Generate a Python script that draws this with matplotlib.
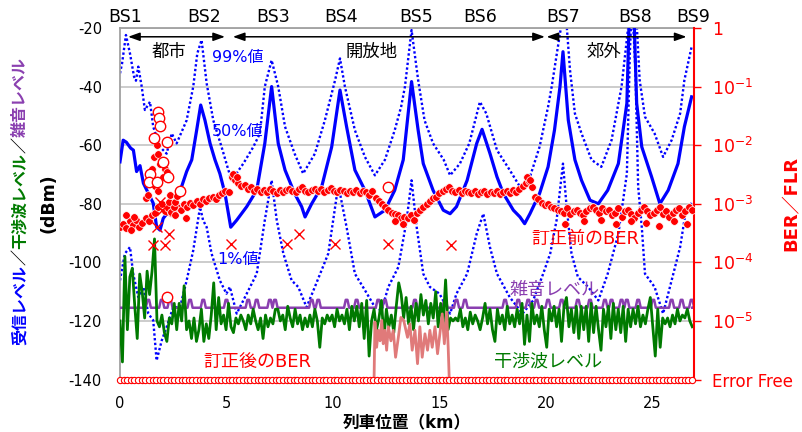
import numpy as np
import matplotlib
matplotlib.use('Agg')
import matplotlib.pyplot as plt
from matplotlib.ticker import NullLocator

plt.rcParams['font.family'] = ['DejaVu Sans', 'Noto Sans CJK JP']
plt.rcParams['axes.unicode_minus'] = False

BLUE = '#0000ff'
GREEN = '#007a00'
PURPLE = '#8a3fb0'
RED = '#ff0000'
SALMON = '#e07a7a'

# received level, 50% value (km, dBm)
rx50_km = [0.0, 0.15, 0.3, 0.5, 0.63, 0.78, 0.94, 1.1, 1.33, 1.56, 1.72, 1.88, 2.03, 2.35, 2.66,
           2.9, 3.13, 3.37, 3.6, 3.79, 3.99, 4.23, 4.46, 4.69, 4.93, 5.2, 5.48, 5.95, 6.42, 6.8,
           7.12, 7.43, 7.75, 8.2, 8.53, 8.69, 9.0, 9.47, 9.94, 10.33, 10.64, 11.03, 11.5, 11.97,
           12.44, 12.9, 13.3, 13.69, 14.0, 14.24, 14.7, 15.18, 15.5, 15.8, 16.3, 16.75, 17.0,
           17.37, 17.7, 18.0, 18.47, 18.78, 19.0, 19.25, 19.7, 20.1, 20.4, 20.66, 20.8, 21.05,
           21.36, 21.67, 22.07, 22.46, 22.9, 23.4, 23.8, 23.94, 24.1, 24.26, 24.5, 24.96, 25.35,
           25.74, 26.2, 26.5, 26.84]
rx50_dbm = [-65.7, -58.3, -59, -61, -61.7, -69, -67, -73, -76.4, -79.8, -87.9, -89, -85, -82, -77.7,
            -74, -69, -65, -54.9, -46.3, -51.5, -59.4, -65, -69.7, -76.5, -88, -85.6, -81, -75.4, -59.4,
            -40, -59.4, -68.5, -76.5, -81, -84.5, -80, -74.2, -60.6, -41.2, -53.7, -68.5, -75.4, -84.5,
            -82.2, -75.4, -65, -38.3, -54.9, -66.3, -75.4, -82.2, -83.4, -81, -72, -59.4, -54.6,
            -62.8, -70.8, -76.5, -82.2, -84.5, -86.8, -83.4, -76.5, -67.4, -54.9, -40, -28.1, -51.5,
            -65, -72, -78.8, -80, -75.4, -66.3, -45.7, -8, -8, -45.7, -60.6, -70.8, -80,
            -75.4, -66.3, -53.7, -43.5]

# received level, 99% value
rx99_km = [0.0, 0.1, 0.28, 0.47, 0.66, 0.75, 0.86, 1.02, 1.17, 1.41, 1.56, 1.88, 2.19, 2.43, 2.66,
           3.13, 3.44, 3.63, 3.83, 4.07, 4.38, 4.77, 5.09, 5.24, 5.79, 6.26, 6.57, 6.8, 7.12, 7.43,
           7.75, 8.2, 8.6, 9.15, 9.62, 10.1, 10.33, 10.56, 11.03, 11.5, 11.97, 12.44, 12.9, 13.2,
           13.38, 13.69, 14.0, 14.3, 14.7, 15.2, 15.5, 15.96, 16.4, 16.9, 17.2, 17.7, 18.3, 18.78,
           19.25, 19.7, 20.1, 20.27, 20.66, 20.9, 21.13, 21.36, 21.67, 22.14, 22.6, 23.08, 23.55,
           23.83, 24.0, 24.2, 24.4, 24.65, 25.1, 25.5, 25.9, 26.3, 26.5, 26.84]
rx99_dbm = [-35.5, -32, -22.4, -28.7, -36.6, -38, -33.2, -40, -48, -45.2, -53.7, -60.6, -62.9, -56, -59.4,
            -51.5, -40, -28.7, -24.1, -38.9, -51.5, -60.6, -68.5, -72, -66.3, -60.6, -56, -40, -31, -40,
            -53.7, -62.9, -69.7, -62.9, -51.5, -37.8, -30.4, -40, -54.9, -64, -70.3, -65, -54.9, -46.9,
            -40, -20.7, -37.8, -51.5, -59.4, -65, -70.3, -66.3, -59.4, -45.2, -49.2, -61.7, -68.5, -74.2,
            -70.8, -60.6, -46.9, -40, -21.8, -12, -34.4, -49.2, -56, -65, -67.4, -58.3, -40,
            -21.8, -5, -10, -37.8, -50.3, -56, -64, -58.3, -49.2, -37.8, -26.4]

# received level, 1% value
rx01_km = [0.0, 0.23, 0.47, 0.62, 0.86, 1.1, 1.33, 1.56, 1.72, 1.96, 2.19, 2.5, 2.82, 3.13, 3.44,
           3.76, 3.9, 4.07, 4.3, 4.69, 5.0, 5.16, 5.48, 5.95, 6.42, 6.8, 7.12, 7.36, 7.67, 8.06,
           8.37, 8.76, 9.15, 9.78, 10.17, 10.33, 10.64, 11.03, 11.5, 11.97, 12.28, 12.6, 13.07,
           13.46, 13.69, 13.93, 14.24, 14.55, 15.0, 15.5, 15.8, 16.3, 16.75, 17.06, 17.37, 17.7,
           18.3, 18.9, 19.4, 19.87, 20.2, 20.5, 20.8, 20.97, 21.2, 21.5, 21.98, 22.46, 22.9, 23.4,
           23.8, 23.94, 24.04, 24.2, 24.33, 24.5, 24.65, 25.1, 25.5, 25.9, 26.3, 26.6, 26.84]
rx01_dbm = [-106.2, -97, -94.8, -103.9, -111.9, -108.4, -117.5, -119.8, -133.5, -126.7, -122.1, -115.3,
            -115.3, -106.2, -95.9, -81.1, -85.6, -88, -97, -106.2, -110.7, -108.4, -117.5, -110.7,
            -103.9, -85.6, -72, -85.6, -97, -106.2, -108.4, -115.3, -108.4, -97, -77.7, -76.5, -88,
            -103.9, -109.5, -115.3, -116.4, -108.4, -101.6, -85.6, -72, -88, -103.9, -108.4, -110.7,
            -117.5, -110.7, -103.9, -90.2, -83.4, -94.8, -103.9, -111.9, -117.5, -113, -103.9, -97,
            -85.6, -66.3, -81, -97, -105, -108.4, -113, -103.9, -90.2, -69.7, -28.6, -10, -34.4,
            -74.2, -88, -103.9, -108.4, -117.5, -106.2, -94.8, -81, -79.8]

# interference level (dBm), sampled evenly from 0 to 26.87 km
interf_dbm = [
    -120, -134, -98, -123, -105, -102, -115, -126, -104, -110,
    -119, -103, -111, -103, -92, -120, -122, -118, -124, -127,
    -119, -121, -114, -123, -114, -120, -108, -123, -120, -126,
    -119, -127, -123, -116, -127, -121, -126, -118, -107, -123,
    -112, -121, -118, -123, -114, -122, -124, -119, -121, -118,
    -120, -123, -118, -121, -116, -120, -123, -119, -126, -118,
    -122, -119, -121, -116, -116, -120, -118, -123, -115, -119,
    -122, -116, -121, -118, -123, -119, -122, -118, -122, -116,
    -120, -129, -119, -121, -118, -120, -118, -122, -116, -120,
    -118, -121, -116, -123, -115, -120, -115, -122, -114, -126,
    -113, -132, -120, -116, -123, -119, -113, -126, -116, -122,
    -118, -124, -115, -107, -111, -119,
    -112, -121, -115, -123, -114, -120, -111, -118, -113, -121,
    -114, -119, -110, -122, -114, -121, -106, -123, -119, -120,
    -119, -120, -116, -122, -119, -123, -117, -121, -118, -120,
    -123, -119, -114, -121, -116, -123, -127, -116, -121, -118,
    -123, -115, -121, -118, -122, -116, -121, -114, -128, -118,
    -127, -114, -121, -118, -122, -115, -123, -129, -116, -120,
    -115, -122, -116, -127, -115, -112, -122, -116, -124, -115,
    -126, -115, -123, -115, -127, -114, -124, -115, -123, -130,
    -116, -122, -115, -126, -114, -123, -116, -124, -115, -127,
    -116, -122, -116, -121, -115, -122, -118, -121, -116, -112,
    -122, -132, -116, -129, -119, -121, -119, -122, -118, -121,
    -116, -120, -118, -119, -116, -120, -122]
interf_end_km = 26.87

# noise level: base and small bumps
noise_base = -115.5
noise_top = -112.8
noise_bump_km = [1.33, 1.96, 2.35, 3.29, 3.91, 5.0, 6.02, 6.42, 7.04, 7.28, 9.0, 9.31, 10.64, 11.11,
                 12.13, 12.44, 13.85, 15.26, 15.8, 16.2, 18.08, 18.7, 19.17, 19.56, 20.1, 20.74,
                 21.5, 22.07, 22.77, 23.08, 23.55, 23.8, 24.33, 25.04, 25.9, 26.37, 26.84]

# BER before FEC, log10 values every 0.15 km
ber_pre_log = [
    -3.40, -3.35, -3.42, -3.30, -3.36, -3.28, -3.40, -3.32, -3.25,
    -3.30, -3.20, -3.15, -3.05, -3.00, -3.12, -3.08, -3.15, -3.10,
    -3.05, -3.10, -3.00, -3.05, -2.98, -3.02, -2.95, -3.00, -2.92,
    -2.95, -2.90, -2.88, -2.92, -2.85, -2.82, -2.78, -2.80, -2.55,
    -2.60, -2.65, -2.70, -2.68, -2.75, -2.72, -2.78, -2.74, -2.80,
    -2.76, -2.80, -2.74, -2.78, -2.82, -2.76, -2.80, -2.77, -2.74,
    -2.78, -2.80, -2.75, -2.72, -2.78, -2.80, -2.76, -2.74, -2.78,
    -2.75, -2.80, -2.77, -2.73, -2.78, -2.80, -2.76, -2.79, -2.82,
    -2.78, -2.80, -2.76, -2.82, -2.78, -2.80, -2.85, -2.78, -2.90,
    -2.95, -3.00, -3.05, -3.10, -3.15, -3.18, -3.20, -3.25, -3.22,
    -3.25, -3.20, -3.28, -3.15, -3.10, -3.05, -3.00, -2.95, -2.90,
    -2.88, -2.82, -2.78, -2.75, -2.72, -2.78, -2.80, -2.76, -2.82,
    -2.78, -2.80, -2.82, -2.78, -2.84, -2.80, -2.78, -2.83, -2.80,
    -2.82, -2.78, -2.84, -2.80, -2.78, -2.82, -2.76, -2.80, -2.74,
    -2.70, -2.65, -2.62, -2.72, -2.88, -2.92, -2.98, -3.02, -3.00,
    -3.05, -3.08, -3.10, -3.12, -3.15, -3.08, -3.18, -3.12, -3.10,
    -3.15, -3.20, -3.12, -3.08, -3.05, -3.10, -3.15, -3.08, -3.12,
    -3.10, -3.20, -3.15, -3.08, -3.22, -3.12, -3.10, -3.18, -3.25,
    -3.15, -3.10, -3.05, -3.12, -3.20, -3.15, -3.10, -3.05, -3.18,
    -3.12, -3.22, -3.15, -3.10, -3.08, -3.20, -3.12, -3.05, -3.10]
ber_pre_step_km = 0.15

# scattered BER-before points
ber_pre_extra_km = [0.3, 0.5, 0.65, 1.2, 1.3, 1.5, 1.6, 1.65, 1.72, 1.8, 1.8, 1.9, 2.0, 2.1, 2.2,
                    2.3, 2.35, 2.4, 2.55, 2.6, 2.6, 2.7, 3.1, 5.3, 5.5, 12.9, 13.3, 19.1, 19.25,
                    20.9, 21.8, 22.6, 23.3, 24.0, 24.7, 25.3, 26.0, 26.6]
ber_pre_extra_log = [-3.2, -3.45, -3.22, -2.9, -2.85, -2.4, -2.2, -2.7, -2.0, -2.15, -2.78, -2.32,
                     -2.55, -2.4, -2.45, -2.97, -2.85, -3.14, -3.05, -2.97, -3.2, -2.87, -3.25,
                     -2.5, -2.55, -3.3, -3.35, -2.55, -2.6, -3.35, -3.3, -3.28, -3.35, -3.3,
                     -3.32, -3.38, -3.3, -3.35]

# open circles (FLR)
flr_km = [1.8, 1.85, 1.9, 1.6, 2.2, 2.0, 1.4, 1.35, 1.75, 2.25, 2.8, 2.19, 12.6]
flr_log = [-1.43, -1.54, -1.68, -1.88, -1.95, -2.29, -2.5, -2.63, -2.63, -2.54, -2.78, -4.59, -2.71]

# cross markers
cross_km = [1.88, 1.95, 1.72, 2.3, 1.56, 2.11, 5.23, 7.84, 8.42, 10.1, 12.6, 15.52]
cross_log = [-2.97, -3.11, -3.4, -3.51, -3.71, -3.71, -3.69, -3.69, -3.52, -3.69, -3.69, -3.7]

# BER after FEC (where not error free)
ber_post_km = [11.93, 11.97, 12.05, 12.13, 12.21, 12.29, 12.36, 12.44, 12.52, 12.6, 12.72, 12.83,
               12.94, 13.07, 13.19, 13.32, 13.5, 13.61, 13.72, 13.85, 13.97, 14.08, 14.19, 14.32,
               14.44, 14.55, 14.66, 14.79, 14.91, 15.02, 15.13, 15.23, 15.34, 15.41, 15.46]
ber_post_log = [-6.0, -5.02, -5.45, -5.16, -5.34, -4.99, -5.39, -5.16, -5.5, -5.1, -5.34, -5.16,
                -5.62, -5.28, -4.94, -4.99, -5.28, -5.05, -5.5, -5.16, -5.73, -5.1, -5.62, -5.22,
                -5.5, -5.16, -5.45, -5.1, -5.56, -5.22, -4.88, -5.39, -4.85, -5.45, -6.0]

error_free_ber = 1e-6
error_free_step_km = 0.17

bs_names = ['BS1', 'BS2', 'BS3', 'BS4', 'BS5', 'BS6', 'BS7', 'BS8', 'BS9']
bs_km = [0.23, 3.94, 7.2, 10.4, 13.9, 16.93, 20.8, 24.18, 26.9]

areas = [('都市', 0.38, 4.93, 2.3), ('開放地', 5.3, 19.95, 11.8), ('郊外', 20.03, 26.6, 22.7)]

ber_ticks = [1e-6, 1e-5, 1e-4, 1e-3, 1e-2, 1e-1, 1]
ber_tick_labels = ['Error Free', '10$^{-5}$', '10$^{-4}$', '10$^{-3}$', '10$^{-2}$', '10$^{-1}$', '1']

fig = plt.figure(figsize=(8.02, 4.32), dpi=100)
ax = fig.add_axes([0.1496, 0.1215, 0.7157, 0.8137])
ax2 = ax.twinx()

# dBm side
ax.plot(rx99_km, rx99_dbm, color=BLUE, lw=1.7, linestyle=(0, (1, 1)), zorder=2)
ax.plot(rx01_km, rx01_dbm, color=BLUE, lw=1.7, linestyle=(0, (1, 1)), zorder=2)
ax.plot(rx50_km, rx50_dbm, color=BLUE, lw=2.3, zorder=3)

nx, ny = [0.0], [noise_base]
for c in noise_bump_km:
    nx += [c - 0.12, c - 0.04, c + 0.04, c + 0.12]
    ny += [noise_base, noise_top, noise_top, noise_base]
nx.append(interf_end_km)
ny.append(noise_base)
ax.plot(nx, ny, color=PURPLE, lw=1.8, zorder=3)

interf_km = np.linspace(0, interf_end_km, len(interf_dbm))
ax.plot(interf_km, interf_dbm, color=GREEN, lw=2.0, zorder=4)

ax.set_xlim(0, 26.95)
ax.set_ylim(-140, -20)
ax.set_yticks(np.arange(-140, -19, 20))
ax.set_xticks([0, 5, 10, 15, 20, 25])
ax.grid(axis='y', color='#c8c8c8', lw=1.3)
ax.set_axisbelow(True)
ax.tick_params(axis='y', length=0, pad=13, labelsize=10.5)
ax.tick_params(axis='x', length=0, pad=12, labelsize=10.5)
for s in ['left', 'top', 'bottom']:
    ax.spines[s].set_color('#a0a0a0')
    ax.spines[s].set_linewidth(1.3)
ax.spines['right'].set_visible(False)

# BER side
ax2.set_yscale('log')
ax2.set_ylim(1e-6, 1)
ax2.plot(ber_post_km, 10 ** np.array(ber_post_log), color=SALMON, lw=2.0, zorder=2)

pre_km = np.arange(len(ber_pre_log)) * ber_pre_step_km
ax2.plot(np.concatenate([pre_km, ber_pre_extra_km]),
         10 ** np.concatenate([ber_pre_log, ber_pre_extra_log]),
         'o', color=RED, ms=5.5, mec='white', mew=0.5, zorder=3)
ax2.plot(flr_km, 10 ** np.array(flr_log), 'o', ms=7.5, mfc='white', mec=RED, mew=1.0, zorder=4)
ax2.plot(cross_km, 10 ** np.array(cross_log), 'x', color=RED, ms=6.5, mew=1.0, zorder=4)

ef_km = np.arange(0, 26.95, error_free_step_km)
ax2.plot(ef_km, np.full(len(ef_km), error_free_ber), 'o', ms=4.5, mfc='white', mec=RED,
         mew=0.8, clip_on=False, zorder=5)

ax2.set_yticks(ber_ticks)
ax2.set_yticklabels(ber_tick_labels)
ax2.yaxis.set_minor_locator(NullLocator())
ax2.tick_params(axis='y', colors=RED, length=5, width=1, pad=8, labelsize=12.5)
ax2.get_yticklabels()[0].set_fontsize(12)
ax2.spines['right'].set_color(RED)
ax2.spines['right'].set_linewidth(1.5)
for s in ['left', 'top', 'bottom']:
    ax2.spines[s].set_visible(False)

# station labels and area arrows
for name, km in zip(bs_names, bs_km):
    ax.text(km, -16.4, name, ha='center', va='center', fontsize=12.5, clip_on=False)
for label, x0, x1, xc in areas:
    ax.annotate('', xy=(x1, -23), xytext=(x0, -23),
                arrowprops=dict(arrowstyle='<|-|>,head_length=0.7,head_width=0.25',
                                color='black', lw=1.1, shrinkA=0, shrinkB=0, mutation_scale=10))
    ax.text(xc, -28.2, label, ha='center', va='center', fontsize=12.5)

# series labels
ax.text(4.3, -30, '99%値', color=BLUE, fontsize=11.5, va='center')
ax.text(4.3, -55.2, '50%値', color=BLUE, fontsize=11.5, va='center')
ax.text(4.55, -99, '1%値', color=BLUE, fontsize=11.5, va='center')
ax.text(19.3, -92.1, '訂正前のBER', color=RED, fontsize=13, va='center')
ax.text(18.3, -109.6, '雑音レベル', color=PURPLE, fontsize=13, va='center')
ax.text(3.9, -134, '訂正後のBER', color=RED, fontsize=13, va='center')
ax.text(17.55, -134, '干渉波レベル', color=GREEN, fontsize=13, va='center')

# left label, multi-coloured, stacked bottom to top
parts = [('受信レベル', BLUE), ('／', 'black'), ('干渉波レベル', GREEN), ('／', 'black'),
         ('雑音レベル', PURPLE)]
prev = fig.text(0.025, 0.2014, parts[0][0], color=parts[0][1], rotation=90, ha='center',
                va='bottom', fontsize=11.5, fontweight='bold')
for txt, col in parts[1:]:
    prev = ax.annotate(txt, xy=(0.5, 1.0), xycoords=prev, ha='center', va='bottom', rotation=90,
                       color=col, fontsize=11.5, fontweight='bold')
fig.text(0.06, 0.53, '(dBm)', rotation=90, ha='center', va='center', fontsize=12.5,
         fontweight='bold')

fig.text(0.9875, 0.53, 'BER／FLR', rotation=90, ha='center', va='center', fontsize=13,
         fontweight='bold', color=RED)
fig.text(0.507, 0.021, '列車位置（km）', ha='center', va='center', fontsize=12, fontweight='bold')

fig.savefig('out.png', dpi=100)
